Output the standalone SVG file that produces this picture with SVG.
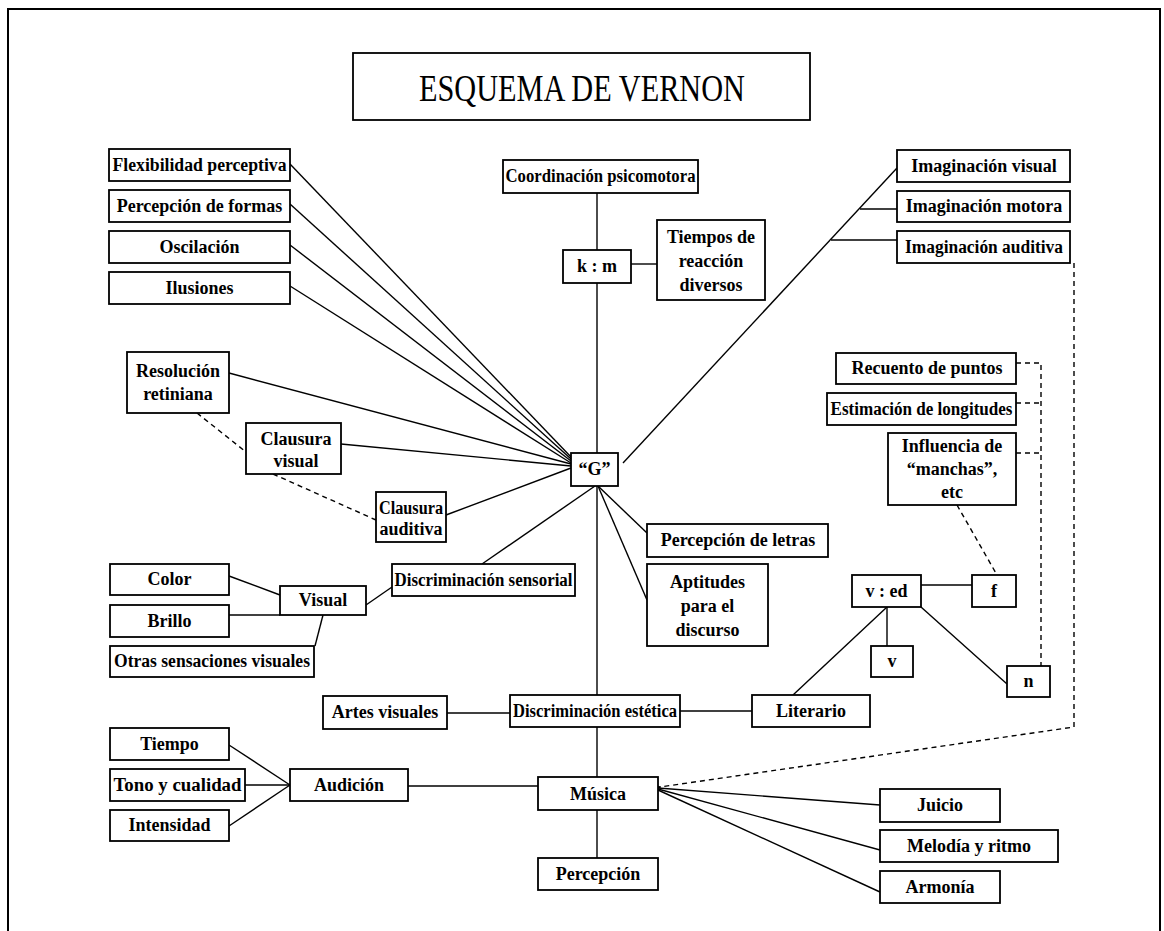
<svg xmlns="http://www.w3.org/2000/svg" width="1164" height="931" viewBox="0 0 1164 931">
<defs>
<style>
.b{fill:#fff;stroke:#000;stroke-width:1.8}
.t{font-family:"Liberation Serif","Times New Roman",serif;font-weight:bold;font-size:18px;text-anchor:middle;fill:#000}
.c line,.c polyline{stroke:#000;stroke-width:1.4;fill:none}
.c .d{stroke-dasharray:5 4}
</style>
<marker id="ah" viewBox="0 0 10 10" refX="1" refY="5" markerWidth="7" markerHeight="7" orient="auto">
<path d="M10,1 L1,5 L10,9" fill="none" stroke="#000" stroke-width="1.5"/>
</marker>
</defs>
<rect x="0" y="0" width="1164" height="931" fill="#fff"/>
<rect x="8" y="9" width="1152" height="940" fill="none" stroke="#000" stroke-width="2"/>

<g class="c" id="connectors">
<line x1="597" y1="193" x2="597" y2="858"/>
<line x1="631" y1="264" x2="657" y2="264"/>
<line x1="290" y1="164" x2="571" y2="457"/>
<line x1="290" y1="204" x2="571" y2="459"/>
<line x1="290" y1="245" x2="571" y2="461"/>
<line x1="290" y1="286" x2="571" y2="463"/>
<line x1="229" y1="373" x2="571" y2="464"/>
<line x1="341" y1="444" x2="571" y2="466"/>
<line x1="446" y1="515" x2="571" y2="468"/>
<line class="d" x1="197" y1="413" x2="246" y2="452"/>
<line class="d" x1="273" y1="474" x2="376" y2="520"/>
<line x1="482" y1="564" x2="595" y2="486"/>
<line x1="623" y1="463" x2="897" y2="168"/>
<line x1="860" y1="209" x2="897" y2="209"/>
<line x1="831" y1="240" x2="897" y2="240"/>
<line x1="598" y1="486" x2="647" y2="533"/>
<line x1="598" y1="486" x2="647" y2="600"/>
<line x1="366" y1="605" x2="392" y2="587"/>
<line x1="229" y1="576" x2="280" y2="595"/>
<line x1="229" y1="615" x2="280" y2="615"/>
<line x1="315" y1="646" x2="323" y2="615"/>
<line x1="447" y1="713" x2="510" y2="713"/>
<line x1="680" y1="711" x2="752" y2="711"/>
<line x1="793" y1="695" x2="887" y2="607"/>
<line x1="887" y1="607" x2="887" y2="646"/>
<line x1="921" y1="585" x2="972" y2="585"/>
<line x1="921" y1="607" x2="1007" y2="684"/>
<line class="d" x1="957" y1="505" x2="997" y2="575"/>
<polyline class="d" points="1016,363 1041,363 1041,666"/>
<line class="d" x1="1016" y1="403" x2="1041" y2="403"/>
<line class="d" x1="1016" y1="453" x2="1041" y2="453"/>
<polyline class="d" points="1074,263 1074,727 660,787" marker-end="url(#ah)"/>
<line x1="229" y1="745" x2="290" y2="785"/>
<line x1="245" y1="785" x2="290" y2="785"/>
<line x1="229" y1="826" x2="290" y2="785"/>
<line x1="408" y1="786" x2="538" y2="786"/>
<line x1="658" y1="788" x2="880" y2="805"/>
<line x1="658" y1="789" x2="880" y2="850"/>
<line x1="658" y1="790" x2="880" y2="892"/>
</g>

<g id="title"><rect class="b" x="353" y="53" width="457" height="67"/>
<text x="582" y="101" textLength="326" lengthAdjust="spacingAndGlyphs" style="font-family:'Liberation Serif','Times New Roman',serif;font-size:38px;text-anchor:middle">ESQUEMA DE VERNON</text></g>

<g id="flexibilidad"><rect class="b" x="109" y="149" width="181" height="32"/><text class="t" x="199.5" y="171" textLength="174" lengthAdjust="spacingAndGlyphs">Flexibilidad perceptiva</text></g>
<g id="percepcion-formas"><rect class="b" x="109" y="190" width="181" height="32"/><text class="t" x="199.5" y="212">Percepción de formas</text></g>
<g id="oscilacion"><rect class="b" x="109" y="231" width="181" height="32"/><text class="t" x="199.5" y="253">Oscilación</text></g>
<g id="ilusiones"><rect class="b" x="109" y="272" width="181" height="32"/><text class="t" x="199.5" y="294">Ilusiones</text></g>

<g id="coordinacion"><rect class="b" x="503" y="160" width="195" height="33"/><text class="t" x="600.5" y="182" textLength="190" lengthAdjust="spacingAndGlyphs">Coordinación psicomotora</text></g>
<g id="km"><rect class="b" x="563" y="250" width="68" height="33"/><text class="t" x="597" y="272">k : m</text></g>
<g id="tiempos"><rect class="b" x="657" y="220" width="108" height="80"/><text class="t" x="711" y="243">Tiempos de</text><text class="t" x="711" y="267">reacción</text><text class="t" x="711" y="291">diversos</text></g>

<g id="imag-visual"><rect class="b" x="897" y="150" width="173" height="32"/><text class="t" x="984" y="172">Imaginación visual</text></g>
<g id="imag-motora"><rect class="b" x="897" y="191" width="173" height="31"/><text class="t" x="984" y="212">Imaginación motora</text></g>
<g id="imag-auditiva"><rect class="b" x="897" y="231" width="173" height="32"/><text class="t" x="984" y="253" textLength="158" lengthAdjust="spacingAndGlyphs">Imaginación auditiva</text></g>

<g id="recuento"><rect class="b" x="836" y="353" width="180" height="31"/><text class="t" x="927" y="374">Recuento de puntos</text></g>
<g id="estimacion"><rect class="b" x="827" y="393" width="189" height="32"/><text class="t" x="921.5" y="415" textLength="182" lengthAdjust="spacingAndGlyphs">Estimación de longitudes</text></g>
<g id="influencia"><rect class="b" x="888" y="433" width="128" height="72"/><text class="t" x="952" y="452">Influencia de</text><text class="t" x="952" y="475">“manchas”,</text><text class="t" x="952" y="498">etc</text></g>

<g id="resolucion"><rect class="b" x="127" y="352" width="102" height="61"/><text class="t" x="178" y="377">Resolución</text><text class="t" x="178" y="400">retiniana</text></g>
<g id="clausura-visual"><rect class="b" x="246" y="423" width="95" height="51"/><text class="t" x="296" y="445">Clausura</text><text class="t" x="296" y="467">visual</text></g>
<g id="clausura-auditiva"><rect class="b" x="376" y="492" width="70" height="50"/><text class="t" x="411" y="514" textLength="64" lengthAdjust="spacingAndGlyphs">Clausura</text><text class="t" x="411" y="535">auditiva</text></g>

<g id="G"><rect class="b" x="571" y="453" width="47" height="33"/><text class="t" x="594.5" y="475">“G”</text></g>

<g id="percepcion-letras"><rect class="b" x="647" y="524" width="181" height="33"/><text class="t" x="738" y="546">Percepción de letras</text></g>
<g id="aptitudes"><rect class="b" x="647" y="564" width="121" height="82"/><text class="t" x="707.5" y="588">Aptitudes</text><text class="t" x="707.5" y="612">para el</text><text class="t" x="707.5" y="636">discurso</text></g>

<g id="disc-sensorial"><rect class="b" x="392" y="564" width="183" height="32"/><text class="t" x="483.5" y="586" textLength="178" lengthAdjust="spacingAndGlyphs">Discriminación sensorial</text></g>
<g id="visual"><rect class="b" x="280" y="586" width="86" height="29"/><text class="t" x="323" y="606">Visual</text></g>
<g id="color"><rect class="b" x="110" y="564" width="119" height="31"/><text class="t" x="169.5" y="585">Color</text></g>
<g id="brillo"><rect class="b" x="110" y="605" width="119" height="32"/><text class="t" x="169.5" y="627">Brillo</text></g>
<g id="otras"><rect class="b" x="110" y="646" width="204" height="31"/><text class="t" x="212" y="667" textLength="196" lengthAdjust="spacingAndGlyphs">Otras sensaciones visuales</text></g>

<g id="ved"><rect class="b" x="852" y="575" width="69" height="32"/><text class="t" x="886.5" y="597">v : ed</text></g>
<g id="f"><rect class="b" x="972" y="575" width="44" height="32"/><text class="t" x="994" y="597">f</text></g>
<g id="v"><rect class="b" x="871" y="646" width="42" height="31"/><text class="t" x="892" y="667">v</text></g>
<g id="n"><rect class="b" x="1007" y="666" width="43" height="31"/><text class="t" x="1028.5" y="687">n</text></g>

<g id="literario"><rect class="b" x="752" y="695" width="118" height="32"/><text class="t" x="811" y="717">Literario</text></g>
<g id="disc-estetica"><rect class="b" x="510" y="695" width="170" height="32"/><text class="t" x="595" y="717" textLength="164" lengthAdjust="spacingAndGlyphs">Discriminación estética</text></g>
<g id="artes"><rect class="b" x="323" y="696" width="124" height="33"/><text class="t" x="385" y="718">Artes visuales</text></g>

<g id="tiempo"><rect class="b" x="110" y="728" width="119" height="32"/><text class="t" x="169.5" y="750">Tiempo</text></g>
<g id="tono"><rect class="b" x="110" y="769" width="135" height="32"/><text class="t" x="177.5" y="791" textLength="128" lengthAdjust="spacingAndGlyphs">Tono y cualidad</text></g>
<g id="intensidad"><rect class="b" x="110" y="810" width="119" height="31"/><text class="t" x="169.5" y="831">Intensidad</text></g>
<g id="audicion"><rect class="b" x="290" y="769" width="118" height="32"/><text class="t" x="349" y="791">Audición</text></g>
<g id="musica"><rect class="b" x="538" y="777" width="120" height="33"/><text class="t" x="598" y="800">Música</text></g>
<g id="percepcion"><rect class="b" x="538" y="858" width="120" height="32"/><text class="t" x="598" y="880">Percepción</text></g>

<g id="juicio"><rect class="b" x="880" y="789" width="120" height="33"/><text class="t" x="940" y="811">Juicio</text></g>
<g id="melodia"><rect class="b" x="880" y="830" width="178" height="32"/><text class="t" x="969" y="852">Melodía y ritmo</text></g>
<g id="armonia"><rect class="b" x="880" y="871" width="120" height="32"/><text class="t" x="940" y="893">Armonía</text></g>
</svg>
